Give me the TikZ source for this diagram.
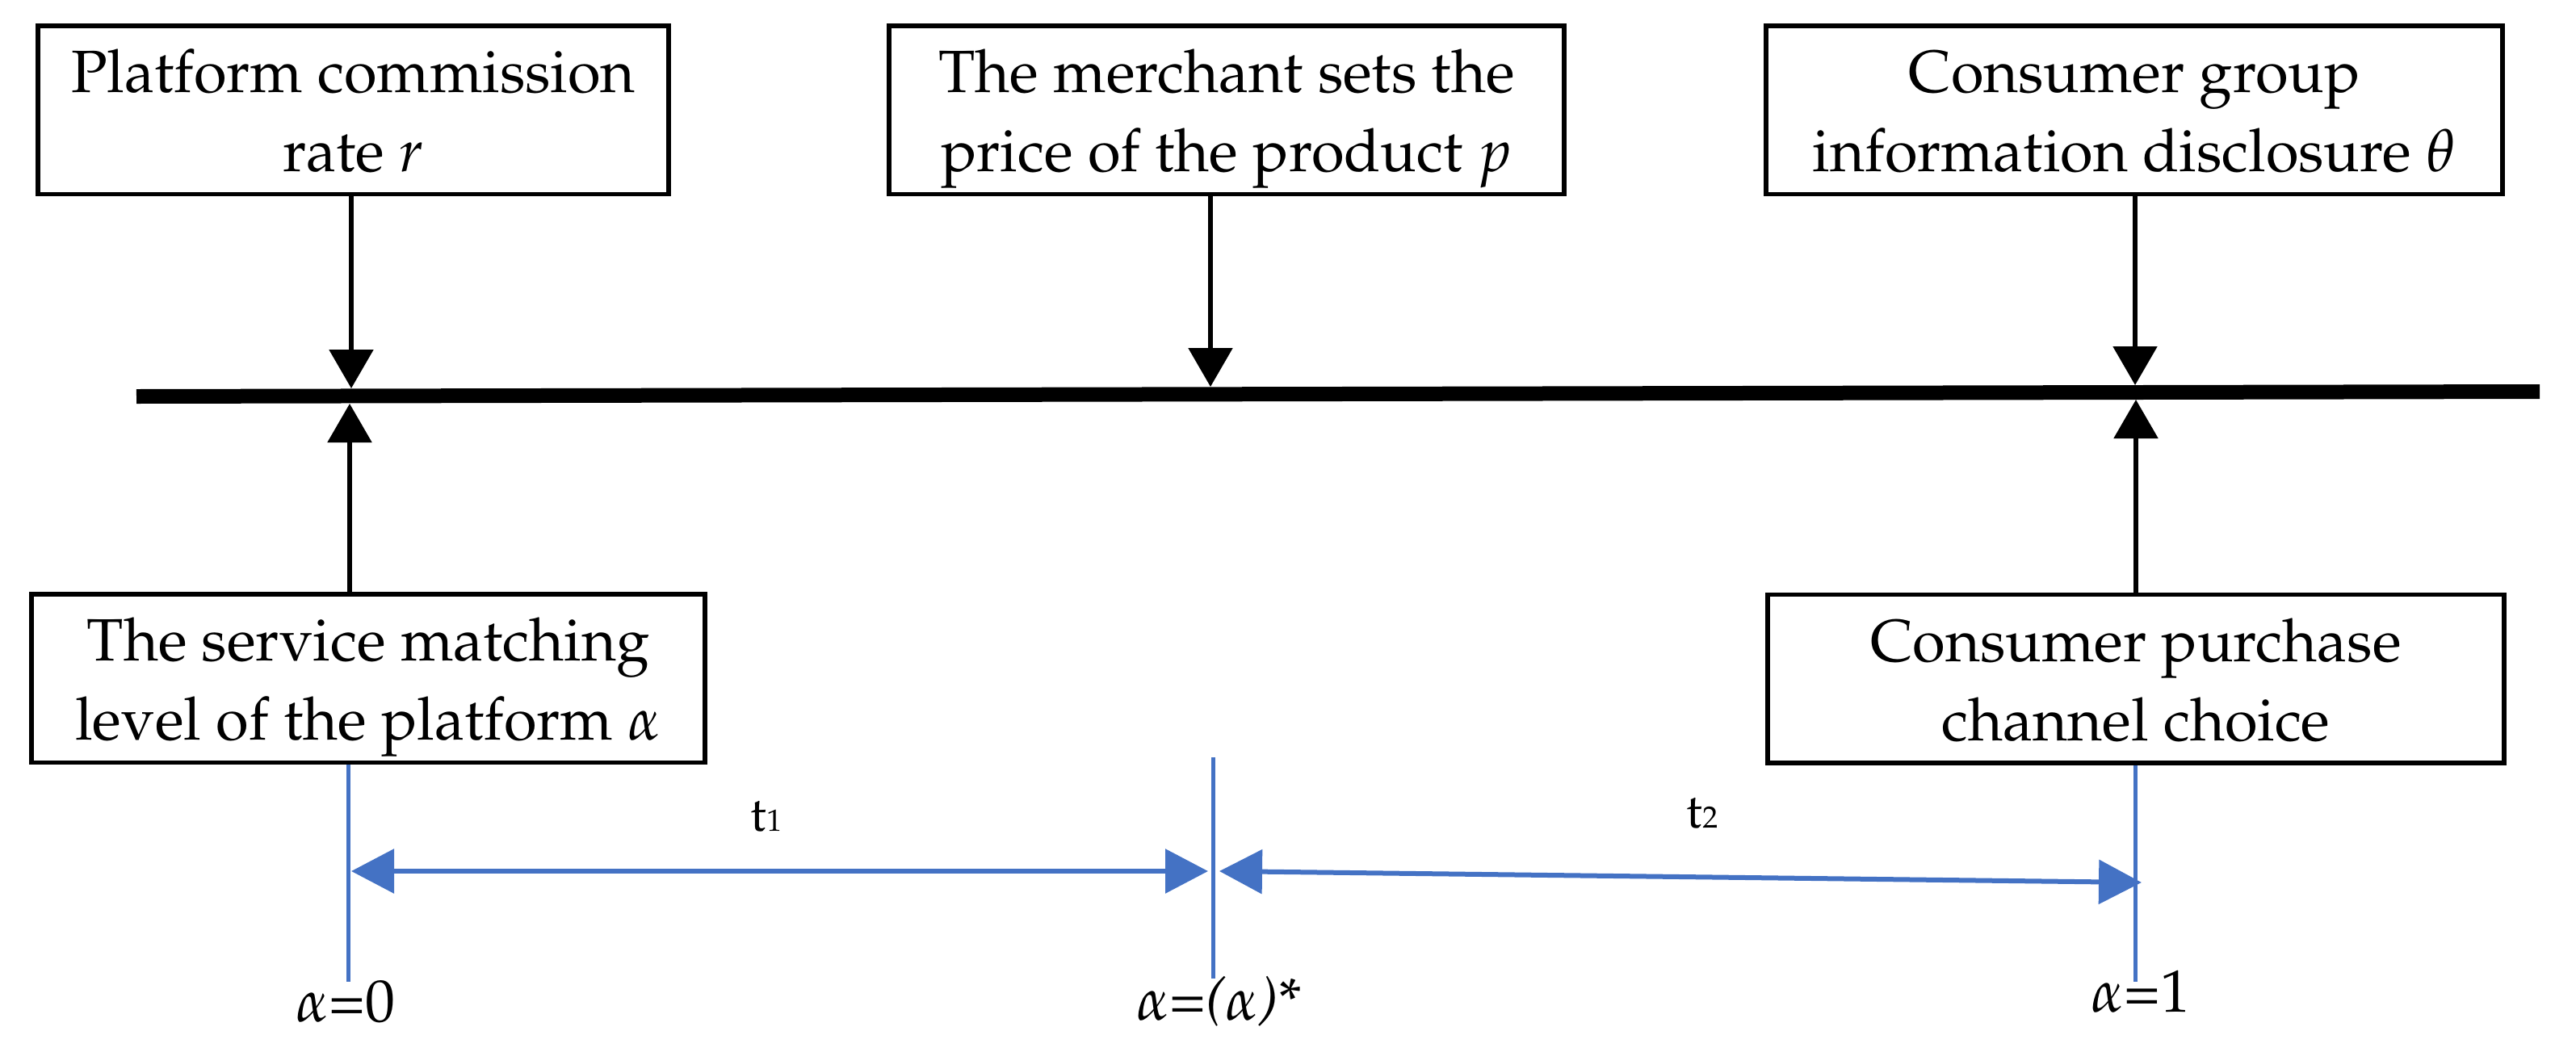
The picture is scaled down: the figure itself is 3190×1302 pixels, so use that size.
\documentclass[tikz,border=0pt]{standalone}
\usepackage[T1]{fontenc}
\usepackage{mathpazo}
\usetikzlibrary{arrows.meta}
\definecolor{myblue}{HTML}{4472C4}
\begin{document}
\begin{tikzpicture}[x=1pt,y=-1pt,
  box/.style={draw, line width=5.5pt, rectangle, align=center, inner sep=0pt,
    minimum height=208.5pt, font=\fontsize{74}{98}\selectfont},
  blk/.style={line width=5.5pt, -{Triangle[length=48pt,width=54pt]}},
  bluv/.style={draw=myblue, line width=5pt},
  blua/.style={draw=myblue, fill=myblue, line width=6pt,
    {Triangle[length=53pt,width=54pt]}-{Triangle[length=53pt,width=54pt]}},
  lbl/.style={anchor=base, font=\fontsize{74}{74}\selectfont, inner sep=0pt},
  tlbl/.style={anchor=base, font=\fontsize{60}{60}\selectfont, inner sep=0pt}
]
\useasboundingbox (0,0) rectangle (3190,1302);

% top boxes
\node[box, minimum width=781pt] (b1) at (437.5,136)
  {\rule{0pt}{55pt}Platform commission\\\smash{rate $r$}};
\node[box, minimum width=836pt] (b2) at (1519,136)
  {\rule{0pt}{55pt}The merchant sets the\\\smash{price of the product $p$}};
\node[box, minimum width=912pt] (b3) at (2643,136)
  {\rule{0pt}{55pt}Consumer group\\\smash{information disclosure $\theta$}};

% bottom boxes
\node[box, minimum width=834pt] (b4) at (456,840)
  {\rule{0pt}{55pt}The service matching\\\smash{level of the platform $\alpha$}};
\node[box, minimum width=912pt] (b5) at (2645,840.5)
  {\rule{0pt}{55pt}Consumer purchase\\\smash{channel choice}};

% timeline
\coordinate (TLa) at (169,491);
\coordinate (TLb) at (3145,485);
\draw[line width=18pt] (TLa) -- (TLb);

% arrow tips on the timeline
\coordinate (D1) at (435,481);
\coordinate (D2) at (1499,479);
\coordinate (D3) at (2644,477);
\coordinate (U1) at (433,500);
\coordinate (U3) at (2645,495);

\draw[blk] (D1 |- b1.south) -- (D1);
\draw[blk] (D2 |- b2.south) -- (D2);
\draw[blk] (D3 |- b3.south) -- (D3);
\draw[blk] (U1 |- b4.north) -- (U1);
\draw[blk] (U3 |- b5.north) -- (U3);

% blue vertical markers
\coordinate (V1) at (431,1216);
\coordinate (V2t) at (1502,938);
\coordinate (V2) at (1502,1212);
\coordinate (V3) at (2644,1216);
\draw[bluv] (V1 |- b4.south) -- (V1);
\draw[bluv] (V2t) -- (V2);
\draw[bluv] (V3 |- b5.south) -- (V3);

% blue interval arrows
\coordinate (A0) at (435,1079);
\coordinate (A1l) at (1496,1079);
\coordinate (A1r) at (1510,1079);
\coordinate (A2) at (2652,1093);
\draw[blua] (A0) -- (A1l);
\draw[blua] (A1r) -- (A2);

% labels
\node[tlbl] (t1) at (949,1029) {t{\fontsize{38}{38}\selectfont 1}};
\node[tlbl] (t2) at (2108,1025) {t{\fontsize{38}{38}\selectfont 2}};
\node[lbl] (l0) at (428,1265) {$\alpha$=0};
\node[lbl] (l1) at (1510,1263) {$\alpha$=\textit{(}$\alpha$\textit{)}*};
\node[lbl] (l2) at (2651,1253) {$\alpha$=1};
\end{tikzpicture}
\end{document}
